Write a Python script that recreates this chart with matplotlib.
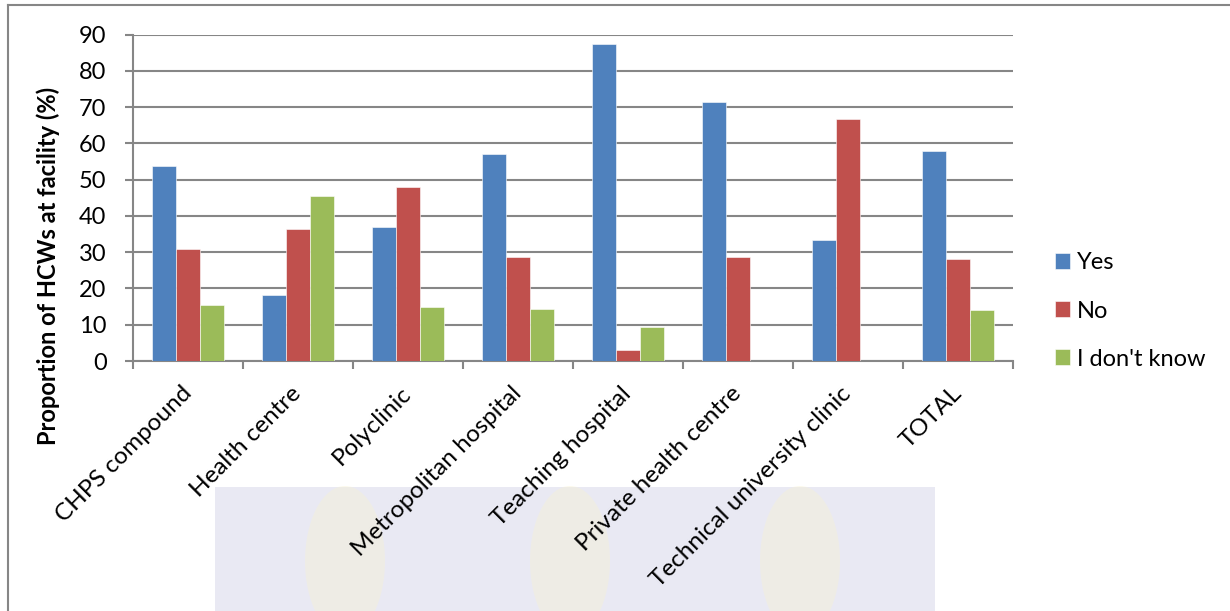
import numpy as np
import matplotlib.pyplot as plt
from matplotlib.patches import Rectangle, Ellipse

plt.rcParams['font.family'] = ['Lato', 'DejaVu Sans']

# =============================================================================
# Data: proportion of HCWs at each facility type (%)
# =============================================================================
facilities = ['CHPS compound', 'Health centre', 'Polyclinic', 'Metropolitan hospital',
              'Teaching hospital', 'Private health centre',
              'Technical university clinic', 'TOTAL']
yes       = [53.8, 18.2, 37.0, 57.1, 87.5, 71.4, 33.3, 57.8]
no        = [30.8, 36.4, 48.1, 28.6,  3.1, 28.6, 66.7, 28.0]
dont_know = [15.4, 45.5, 14.8, 14.3,  9.4,  0.0,  0.0, 14.2]

series = [('Yes', yes, '#4F81BD'),
          ('No', no, '#C0504D'),
          ("I don't know", dont_know, '#9BBB59')]

# =============================================================================
# Figure
# =============================================================================
W, H = 1230, 611
fig = plt.figure(figsize=(W / 100, H / 100), dpi=100)
grey = '#868686'

# faint background panel below the axis labels
fig.patches.append(Rectangle((215 / W, 0), 720 / W, 124 / H,
                             transform=fig.transFigure, facecolor='#e9e9f3',
                             edgecolor='none', zorder=-2))
for cx in (345, 570, 800):
    fig.patches.append(Ellipse((cx / W, 50 / H), 80 / W, 150 / H,
                               transform=fig.transFigure, facecolor='#f8f2d2',
                               edgecolor='none', alpha=0.4, zorder=-1))

# outer chart frame (left and top edges visible)
fig.add_artist(plt.Line2D([8 / W, 8 / W], [0, 1 - 5 / H],
                          transform=fig.transFigure, color=grey, lw=1.5))
fig.add_artist(plt.Line2D([8 / W, 1], [1 - 5 / H, 1 - 5 / H],
                          transform=fig.transFigure, color=grey, lw=1.5))

ax = fig.add_axes([133 / W, 1 - 361 / H, 880 / W, 326.3 / H])
ax.patch.set_alpha(0)

x = np.arange(len(facilities))
w = 0.22
for i, (name, vals, col) in enumerate(series):
    ax.bar(x + (i - 1) * w, vals, w, color=col, label=name,
           edgecolor='white', linewidth=0.4, zorder=3)

ax.set_xlim(-0.5, len(facilities) - 0.5)
ax.set_ylim(0, 90)
ax.set_yticks(np.arange(0, 91, 10))
ax.yaxis.grid(True, color=grey, lw=1.5, zorder=0)
ax.set_axisbelow(True)

ax.set_xticks(x)
ax.set_xticklabels(facilities, rotation=45, ha='right', va='center',
                   rotation_mode='anchor', fontsize=17.5)
ax.set_xticks(np.arange(-0.5, len(facilities)), minor=True)
ax.tick_params(axis='x', which='major', length=0, pad=21)
ax.tick_params(axis='x', which='minor', length=6, width=1.5, color=grey)
ax.tick_params(axis='y', length=6, width=1.5, color=grey, labelsize=17, pad=13)

for s in ('top', 'right'):
    ax.spines[s].set_visible(False)
for s in ('left', 'bottom'):
    ax.spines[s].set_color(grey)
    ax.spines[s].set_linewidth(1.5)

ax.set_ylabel('Proportion of HCWs at facility (%)', fontsize=17,
              fontweight='bold')
ax.yaxis.set_label_coords(-0.083, 0.29)

fig.legend(loc='center left', bbox_to_anchor=(1043 / W, 1 - 311 / H),
           frameon=False, fontsize=17, borderpad=0, handlelength=0.65,
           handleheight=0.65, handletextpad=0.3, labelspacing=1.15)

plt.savefig('out.png', dpi=100)
